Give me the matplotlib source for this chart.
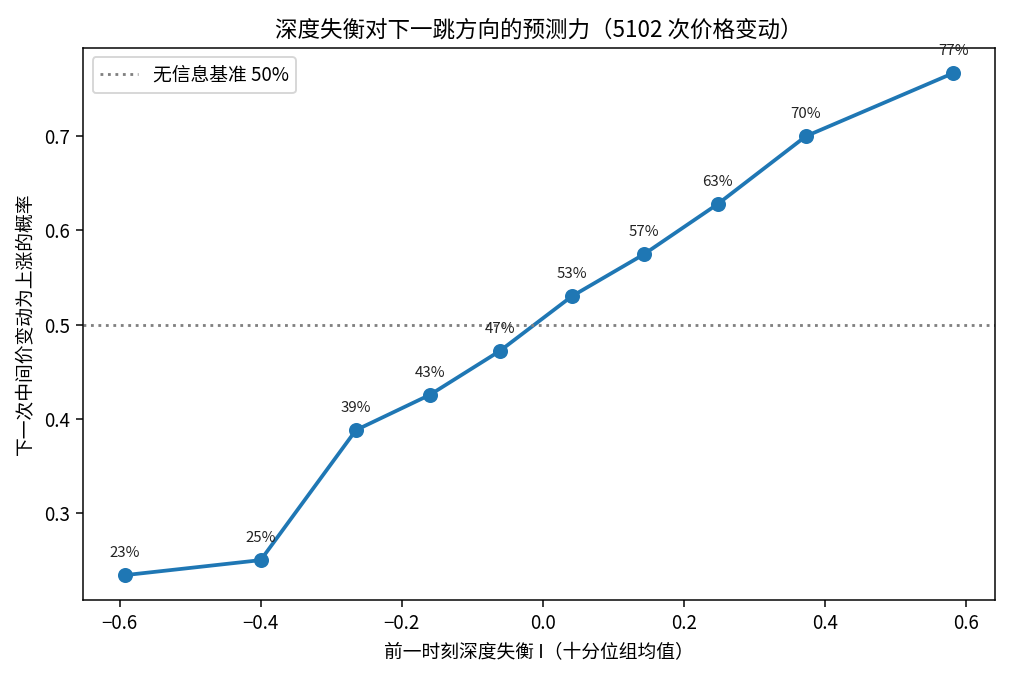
import numpy as np
import matplotlib
matplotlib.use("Agg")
import matplotlib.pyplot as plt

plt.rcParams['font.family'] = ['Noto Sans CJK SC', 'DejaVu Sans']

# 十分位组均值
imbalance = [-0.593, -0.40, -0.265, -0.160, -0.061, 0.041, 0.143, 0.248, 0.373, 0.582]
prob_up   = [0.234, 0.250, 0.388, 0.4255, 0.472, 0.530, 0.5745, 0.628, 0.700, 0.767]
baseline  = 0.5

fig, ax = plt.subplots(figsize=(7.5, 5), dpi=135.2)
ax.plot(imbalance, prob_up, marker='o', color='#1f77b4', lw=2, ms=7)
ax.axhline(baseline, color='gray', ls=':', lw=1.5, label='无信息基准 50%')

for x, y in zip(imbalance, prob_up):
    ax.annotate(f"{y:.0%}", (x, y), textcoords='offset points', xytext=(0, 8),
                ha='center', va='bottom', fontsize=8, color='#222222')

ax.set_xlabel('前一时刻深度失衡 I（十分位组均值）')
ax.set_ylabel('下一次中间价变动为上涨的概率')
ax.set_title('深度失衡对下一跳方向的预测力（5102 次价格变动）')
ax.legend(loc='upper left')
fig.subplots_adjust(left=0.082, right=0.981, top=0.929, bottom=0.112)
fig.savefig('out.png')
